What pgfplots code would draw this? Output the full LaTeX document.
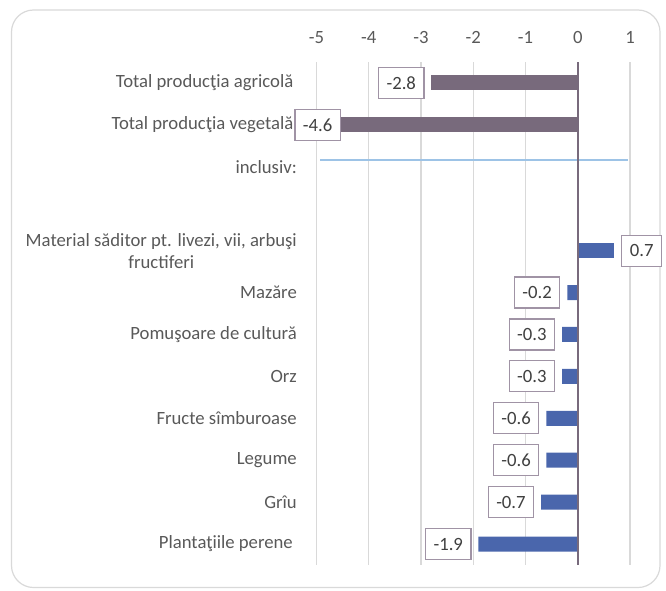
\documentclass[border=0pt]{standalone}
\usepackage{pgfplots}
\pgfplotsset{compat=1.18}
\usepackage{fontspec}
\setmainfont{Carlito}
\definecolor{totc}{HTML}{786A7C}
\definecolor{barb}{HTML}{4A66AC}
\definecolor{boxc}{HTML}{A093A5}
\definecolor{txt}{HTML}{404040}
\definecolor{tick}{HTML}{595959}
\definecolor{gridc}{HTML}{D9D9D9}
\definecolor{linec}{HTML}{9DC3E6}
\begin{document}
\begin{tikzpicture}[x=1pt,y=1pt]
\useasboundingbox (0,0) rectangle (666,590);
\draw[gridc, line width=1.2pt, rounded corners=22pt] (11.5,2.5) rectangle (660,580);
\begin{axis}[
  at={(316.5pt,25pt)}, anchor=south west,
  scale only axis, width=313.5pt, height=503pt,
  xmin=-5, xmax=1, ymin=-0.5, ymax=11.5, y dir=reverse,
  clip=false,
  axis line style={draw=none}, major tick length=0pt,
  xmajorgrids, grid style={gridc, line width=1.2pt},
  xtick={-5,-4,-3,-2,-1,0,1},
  xticklabels={-5,-4,-3,-2,-1,0,1},
  xticklabel pos=upper,
  xticklabel style={anchor=base, inner sep=0pt, yshift=18.5pt, text=tick, font=\fontsize{18.7}{22}\selectfont},
  ytick={0,...,11},
  yticklabels={{Total producţia agricolă\hspace{3.5pt}},{Total producţia vegetală\hspace{3.5pt}},{inclusiv:},{},{Material săditor pt. livezi, vii, arbuşi\\fructiferi},{Mazăre},{Pomuşoare de cultură},{Orz},{Fructe sîmburoase},{Legume},{Grîu},{Plantaţiile perene\hspace{4pt}}},
  yticklabel style={anchor=east, inner sep=0pt, xshift=-19.5pt, align=center, text=tick, font=\fontsize{18.7}{22}\selectfont},
  bar width=15pt, bar shift=0pt,
  point meta=explicit symbolic,
  lbl/.style={every node near coord/.style={draw=boxc, line width=1.1pt, fill=white, text=txt, inner xsep=8pt, inner ysep=0pt, minimum height=31pt, outer sep=7.5pt, font=\fontsize{18.7}{22}\selectfont, #1}},
]
\addplot[linec, line width=1.2pt] coordinates {(-4.93,1.84) (0.97,1.84)};
\addplot[xbar, fill=totc, draw=none, nodes near coords, lbl={anchor=east}]
  coordinates {(-2.8,0) [-2.8]};
\addplot[xbar, fill=totc, draw=none, nodes near coords, lbl={anchor=east, xshift=10.5pt}]
  coordinates {(-4.6,1) [-4.6]};
\addplot[xbar, fill=barb, draw=none, nodes near coords, lbl={anchor=west}]
  coordinates {(0.7,4) [0.7]};
\addplot[xbar, fill=barb, draw=none, nodes near coords, lbl={anchor=east}]
  coordinates {(-0.2,5) [-0.2] (-0.3,6) [-0.3] (-0.3,7) [-0.3] (-0.6,8) [-0.6] (-0.6,9) [-0.6] (-0.7,10) [-0.7] (-1.9,11) [-1.9]};
\addplot[totc, line width=1.5pt] coordinates {(0,-0.5) (0,11.5)};
\end{axis}
\end{tikzpicture}
\end{document}
